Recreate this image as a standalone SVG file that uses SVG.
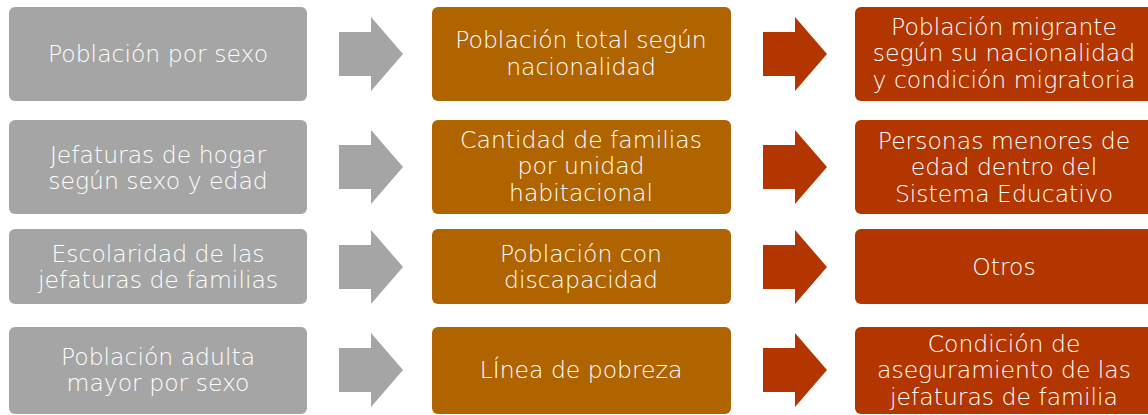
<svg xmlns="http://www.w3.org/2000/svg" width="1148" height="415" viewBox="0 0 1148 415">
<style>
.g{fill:#A5A5A5}
.o{fill:#AF6400}
.r{fill:#B33600}
text{font-family:"DejaVu Sans","Liberation Sans",sans-serif;font-size:23.5px;font-weight:200;fill:#FFFFFF;text-anchor:middle}
</style>
<defs>
<path id="arr" d="M0,-22 H32 V-37 L64,0 L32,37 V22 H0 Z"/>
</defs>
<rect width="1148" height="415" fill="#FFFFFF"/>
<g id="connectors">
<use href="#arr" class="g" x="339" y="54"/>
<use href="#arr" class="g" x="339" y="167"/>
<use href="#arr" class="g" x="339" y="267"/>
<use href="#arr" class="g" x="339" y="370"/>
<use href="#arr" class="r" x="763" y="54"/>
<use href="#arr" class="r" x="763" y="167"/>
<use href="#arr" class="r" x="763" y="267"/>
<use href="#arr" class="r" x="763" y="370"/>
</g>
<g id="n-g1"><rect class="g" x="9" y="7" width="298" height="94" rx="6"/><text x="158" y="62">Población por sexo</text></g>
<g id="n-g2"><rect class="g" x="9" y="120" width="298" height="94" rx="6"/><text x="158" y="163">Jefaturas de hogar</text><text x="158" y="189">según sexo y edad</text></g>
<g id="n-g3"><rect class="g" x="9" y="229" width="298" height="75" rx="6"/><text x="158" y="262">Escolaridad de las</text><text x="158" y="288">jefaturas de familias</text></g>
<g id="n-g4"><rect class="g" x="9" y="327" width="298" height="87" rx="6"/><text x="158" y="365">Población adulta</text><text x="158" y="391">mayor por sexo</text></g>
<g id="n-o1"><rect class="o" x="432" y="7" width="299" height="94" rx="6"/><text x="581" y="48">Población total según</text><text x="581" y="75">nacionalidad</text></g>
<g id="n-o2"><rect class="o" x="432" y="120" width="299" height="94" rx="6"/><text x="581" y="148">Cantidad de familias</text><text x="581" y="174">por unidad</text><text x="581" y="201">habitacional</text></g>
<g id="n-o3"><rect class="o" x="432" y="229" width="299" height="75" rx="6"/><text x="581" y="262">Población con</text><text x="581" y="288">discapacidad</text></g>
<g id="n-o4"><rect class="o" x="432" y="327" width="299" height="87" rx="6"/><text x="581" y="378">LÍnea de pobreza</text></g>
<g id="n-r1"><rect class="r" x="855" y="7" width="298" height="94" rx="6"/><text x="1004" y="35">Población migrante</text><text x="1004" y="61">según su nacionalidad</text><text x="1004" y="88">y condición migratoria</text></g>
<g id="n-r2"><rect class="r" x="855" y="120" width="298" height="94" rx="6"/><text x="1004" y="149">Personas menores de</text><text x="1004" y="175">edad dentro del</text><text x="1004" y="202">Sistema Educativo</text></g>
<g id="n-r3"><rect class="r" x="855" y="229" width="298" height="75" rx="6"/><text x="1004" y="275">Otros</text></g>
<g id="n-r4"><rect class="r" x="855" y="327" width="298" height="87" rx="6"/><text x="1004" y="352">Condición de</text><text x="1004" y="378">aseguramiento de las</text><text x="1004" y="405">jefaturas de familia</text></g>
</svg>
